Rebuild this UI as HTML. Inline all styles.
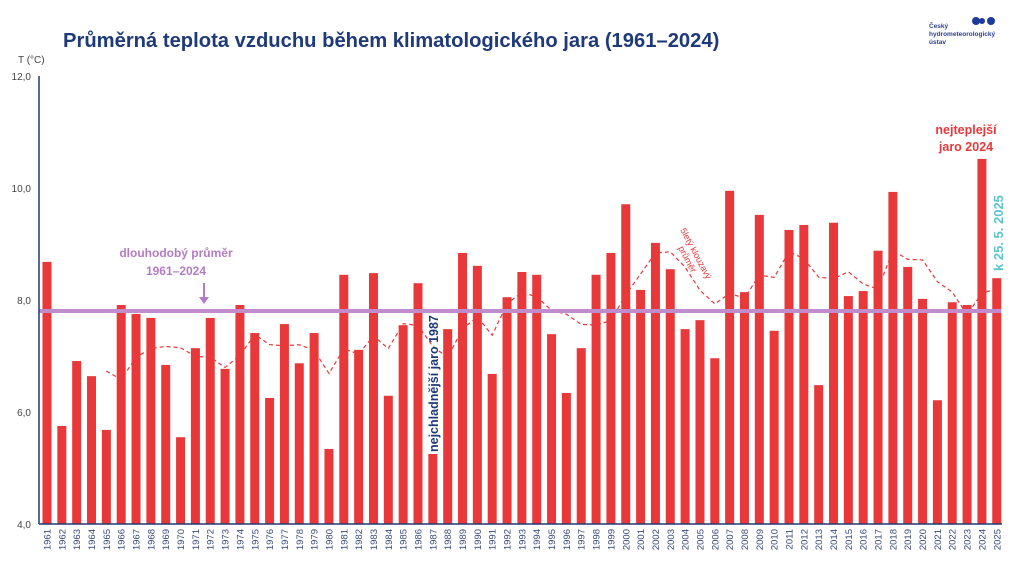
<!DOCTYPE html>
<html><head><meta charset="utf-8"><style>
html,body{margin:0;padding:0;background:#fff;width:1024px;height:576px;overflow:hidden;font-family:"Liberation Sans",sans-serif}
</style></head><body>
<svg id="s" width="1024" height="576" xmlns="http://www.w3.org/2000/svg" font-family="Liberation Sans, sans-serif">
<text x="63" y="47" font-size="20.2" font-weight="bold" fill="#1e3a78">Průměrná teplota vzduchu během klimatologického jara (1961–2024)</text>
<text x="18" y="63" font-size="10" fill="#444">T (°C)</text>
<text x="929" y="28" font-size="6.5" font-weight="bold" fill="#2a3f8f">Český</text>
<text x="929" y="36" font-size="6.5" font-weight="bold" fill="#2a3f8f">hydrometeorologický</text>
<text x="929" y="44" font-size="6.5" font-weight="bold" fill="#2a3f8f">ústav</text>
<circle cx="976" cy="21" r="4" fill="#1e3a9a"/><circle cx="982" cy="21" r="3" fill="#1e3a9a"/><circle cx="991" cy="21" r="4" fill="#1e3a9a"/>
<g id="g"></g>
</svg>
<script>
var v=[8.68,5.75,6.91,6.64,5.68,7.91,7.75,7.68,6.84,5.55,7.14,7.68,6.77,7.91,7.41,6.25,7.57,6.87,7.41,5.34,8.45,7.11,8.48,6.29,7.55,8.30,5.25,7.48,8.84,8.61,6.68,8.05,8.50,8.45,7.39,6.34,7.14,8.45,8.84,9.71,8.18,9.02,8.55,7.48,7.64,6.96,9.95,8.14,9.52,7.45,9.25,9.34,6.48,9.38,8.07,8.16,8.88,9.93,8.59,8.02,6.21,7.96,7.91,10.52,8.39];
var Y=function(t){return 524-(t-4)*56};
var X=function(i){return 47+i*14.84};
var h='';
[12,10,8,6,4].forEach(function(t){h+='<text x="31" y="'+(Y(t)+4)+'" font-size="10" text-anchor="end" fill="#444">'+t.toFixed(1).replace('.',',')+'</text>';});
v.forEach(function(t,i){h+='<rect x="'+(X(i)-4.5)+'" y="'+Y(t)+'" width="9" height="'+(524-Y(t))+'" fill="#e8383a"/>';
h+='<text transform="translate('+(X(i)+3.5)+',529) rotate(-90)" font-size="9.5" text-anchor="end" fill="#3a4a7a">'+(1961+i)+'</text>';});
var p='';for(var i=4;i<v.length;i++){var s=0;for(var k=i-4;k<=i;k++)s+=v[k];p+=(i==4?'M':'L')+X(i).toFixed(1)+','+Y(s/5).toFixed(1);}
h+='<path d="'+p+'" fill="none" stroke="#e8383a" stroke-width="1.2" stroke-dasharray="4,3"/>';
h+='<line x1="39" y1="311" x2="1001" y2="311" stroke="#c08ccc" stroke-width="4"/>';
h+='<line x1="39" y1="76" x2="39" y2="524" stroke="#1e3a78" stroke-width="1.5"/><line x1="39" y1="524" x2="1002" y2="524" stroke="#1e3a78" stroke-width="1.5"/>';
h+='<text x="176" y="257" font-size="12" font-weight="bold" fill="#b57cc4" text-anchor="middle">dlouhodobý průměr</text><text x="176" y="275" font-size="12" font-weight="bold" fill="#b57cc4" text-anchor="middle">1961–2024</text>';
h+='<line x1="204" y1="283" x2="204" y2="300" stroke="#b57cc4" stroke-width="2"/><path d="M199,297 L204,304 L209,297Z" fill="#b57cc4"/>';
h+='<text transform="translate(438,452) rotate(-90)" font-size="12.5" font-weight="bold" fill="#1e3a78">nejchladnější jaro 1987</text>';
h+='<text x="966" y="134" font-size="12.5" font-weight="bold" fill="#e8383a" text-anchor="middle">nejteplejší</text><text x="966" y="151" font-size="12.5" font-weight="bold" fill="#e8383a" text-anchor="middle">jaro 2024</text>';
h+='<text transform="translate(1003,271) rotate(-90)" font-size="13" font-weight="bold" fill="#5bc4d0">k 25. 5. 2025</text>';
h+='<text transform="translate(680,230) rotate(62)" font-size="9" fill="#e8383a">5letý klouzavý</text><text transform="translate(678,248) rotate(62)" font-size="9" fill="#e8383a">průměr</text>';
document.getElementById('g').innerHTML=h;
</script>
</body></html>
